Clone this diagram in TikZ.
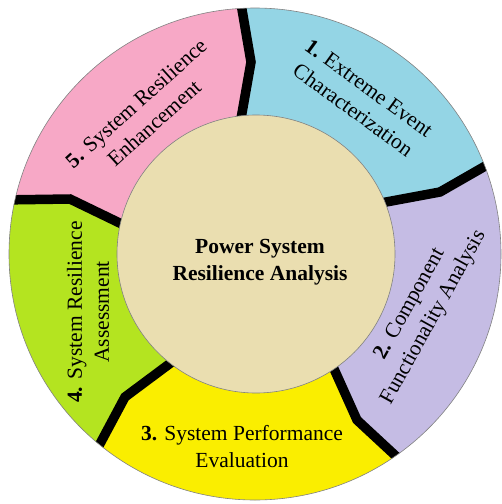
\documentclass[tikz,border=0pt]{standalone}
\usepackage{fontspec}
\setmainfont{Liberation Serif}
\definecolor{segblue}{RGB}{148,213,229}
\definecolor{seglav}{RGB}{197,188,228}
\definecolor{segyel}{RGB}{250,238,0}
\definecolor{seggrn}{RGB}{180,228,32}
\definecolor{segpink}{RGB}{247,168,198}
\definecolor{hubfill}{RGB}{234,222,176}
\definecolor{rimgray}{RGB}{130,130,130}
\tikzset{
  seglabel/.style={align=center,font=\fontsize{21.5}{27}\selectfont,inner sep=0pt},
  hublabel/.style={align=center,font=\fontsize{21.5}{27}\selectfont\bfseries,inner sep=0pt},
  sepline/.style={line width=9.5pt,black,line join=miter},
  rim/.style={draw=rimgray,line width=0.6pt}
}
\begin{document}
\begin{tikzpicture}[x=1pt,y=-1pt]
\useasboundingbox (0,0) rectangle (502,504);
\coordinate (C) at (255,254);
% separators: inner, kink, outer, far
\coordinate (aI) at (240,118); \coordinate (aK) at (251,62);  \coordinate (aO) at (242,10);  \coordinate (aF) at (235.5,-112); \coordinate (aE) at (239,-8);
\coordinate (bI) at (387,202); \coordinate (bK) at (440,192); \coordinate (bO) at (487,165); \coordinate (bF) at (603,120.5);  \coordinate (bE) at (508,153);
\coordinate (cI) at (335,372); \coordinate (cK) at (357,420); \coordinate (cO) at (398,458); \coordinate (cF) at (469.5,560);  \coordinate (cE) at (412,471);
\coordinate (dI) at (168,365); \coordinate (dK) at (125,397); \coordinate (dO) at (100,443); \coordinate (dF) at (22.5,537.5);  \coordinate (dE) at (94,455);
\coordinate (eI) at (118,222); \coordinate (eK) at (70,199);  \coordinate (eO) at (17,200);  \coordinate (eF) at (-102,173);   \coordinate (eE) at (0,200);
\coordinate (aIn) at (239,130); \coordinate (bIn) at (370,205); \coordinate (cIn) at (330,360); \coordinate (dIn) at (180,356); \coordinate (eIn) at (130,228);
\begin{scope}
  \clip (C) circle[radius=246];
  \fill[segblue] (C) -- (aI) -- (aK) -- (aO) -- (aF) -- (bF) -- (bO) -- (bK) -- (bI) -- cycle;
  \fill[seglav]  (C) -- (bI) -- (bK) -- (bO) -- (bF) -- (cF) -- (cO) -- (cK) -- (cI) -- cycle;
  \fill[segyel]  (C) -- (cI) -- (cK) -- (cO) -- (cF) -- (dF) -- (dO) -- (dK) -- (dI) -- cycle;
  \fill[seggrn]  (C) -- (dI) -- (dK) -- (dO) -- (dF) -- (eF) -- (eO) -- (eK) -- (eI) -- cycle;
  \fill[segpink] (C) -- (eI) -- (eK) -- (eO) -- (eF) -- (aF) -- (aO) -- (aK) -- (aI) -- cycle;
  \draw[sepline] (aIn) -- (aK) -- (aE);
  \draw[sepline] (bIn) -- (bK) -- (bE);
  \draw[sepline] (cIn) -- (cK) -- (cE);
  \draw[sepline] (dIn) -- (dK) -- (dE);
  \draw[sepline] (eIn) -- (eK) -- (eE);
\end{scope}
\draw[rim] (C) circle[radius=246];
\filldraw[rim,fill=hubfill] (256,254) circle[radius=139];
\node[hublabel] (hub) at (260,262) {Power System\\Resilience Analysis};
\node[seglabel,rotate=-36] (s1) at (361,99) {\textbf{1.} Extreme Event\\Characterization};
\node[seglabel,rotate=61] (s2) at (422,311) {\textbf{2.} Component\\Functionality Analysis};
\node[seglabel] (s3) at (242,447) {\textbf{3.} System Performance\\Evaluation};
\node[seglabel,rotate=90] (s4) at (88,312) {\textbf{4.} System Resilience\\Assessment};
\node[seglabel,rotate=42] (s5) at (145,113) {\textbf{5.} System Resilience\\Enhancement};
\end{tikzpicture}
\end{document}
